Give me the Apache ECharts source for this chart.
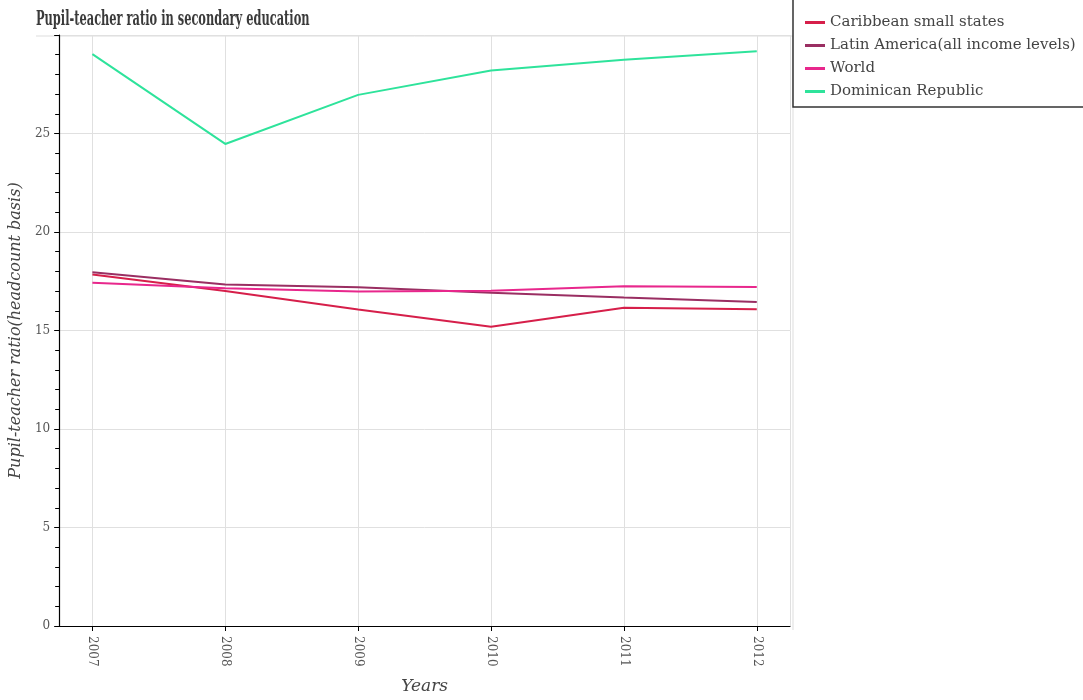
<!DOCTYPE html>
<html>
<head>
<meta charset="utf-8">
<script src="https://cdn.jsdelivr.net/npm/echarts@6/dist/echarts.min.js"></script>
<style>html,body{margin:0;padding:0;background:#fff}#c{width:1083px;height:700px}</style>
</head>
<body>
<div id="c"></div>
<script>
const years = [2007, 2008, 2009, 2010, 2011, 2012];
const caribbean = [17.84, 17.01, 16.07, 15.19, 16.16, 16.08];
const latinAmerica = [17.96, 17.33, 17.2, 16.92, 16.67, 16.45];
const world = [17.42, 17.15, 16.98, 17.02, 17.25, 17.21];
const dominican = [29.03, 24.47, 26.96, 28.2, 28.74, 29.18];

const seriesNames = ['Caribbean small states', 'Latin America(all income levels)', 'World', 'Dominican Republic'];
const seriesData = [caribbean, latinAmerica, world, dominican];
const colors = ['#d61f4a', '#9a2e62', '#e8278c', '#2ee39b'];

const chart = echarts.init(document.getElementById('c'));
const serif = 'DejaVu Serif';
chart.setOption({
  animation: false,
  backgroundColor: '#fff',
  graphic: [
    {type: 'text', z: 5, x: 36, y: 20, scaleX: 0.57,
      style: {text: 'Pupil-teacher ratio in secondary education', fontFamily: serif, fontWeight: 'bold', fontSize: 20, fill: '#3a3a3a', verticalAlign: 'middle', align: 'left'}},
    {type: 'line', z: 0, shape: {x1: 36, y1: 36, x2: 793, y2: 36}, style: {stroke: '#dddddd', lineWidth: 1}},
    {type: 'line', z: 0, shape: {x1: 793, y1: 36, x2: 793, y2: 630}, style: {stroke: '#dddddd', lineWidth: 1}},
    {type: 'rect', z: 1, shape: {x: 793, y: -2, width: 300, height: 109}, style: {fill: '#fff', stroke: '#333', lineWidth: 1.5}}
  ],
  legend: {
    orient: 'vertical', left: 800, top: 8, z: 10,
    icon: 'rect', itemWidth: 20, itemHeight: 3, itemGap: 4,
    textStyle: {fontFamily: serif, fontSize: 15, color: '#444', lineHeight: 19},
    data: seriesNames
  },
  grid: {left: 53, right: 293, top: 35, bottom: 70, containLabel: false},
  xAxis: {
    type: 'value', min: 2006.75, max: 2012.25, splitNumber: 6,
    name: 'Years', nameLocation: 'middle', nameGap: 52,
    nameTextStyle: {fontFamily: serif, fontStyle: 'italic', fontSize: 17, color: '#444'},
    axisLine: {show: true, lineStyle: {color: '#000', width: 1.2}},
    axisTick: {show: true, length: 5, lineStyle: {color: '#000'}},
    axisLabel: {rotate: -90, margin: 10, fontFamily: serif, fontSize: 12, color: '#555',
      showMinLabel: false, showMaxLabel: false, formatter: v => String(v)},
    splitLine: {show: true, lineStyle: {color: '#e0e0e0'}}
  },
  yAxis: {
    type: 'value', min: 0, max: 30, interval: 5,
    name: 'Pupil-teacher ratio(headcount basis)', nameLocation: 'middle', nameGap: 33,
    nameTextStyle: {fontFamily: serif, fontStyle: 'italic', fontSize: 16, color: '#444'},
    axisLine: {show: true, lineStyle: {color: '#000', width: 1.2}},
    axisTick: {show: true, length: 5, inside: false, lineStyle: {color: '#000'}},
    minorTick: {show: true, splitNumber: 5, length: 4, lineStyle: {color: '#000'}},
    axisLabel: {showMaxLabel: false, margin: 9, fontFamily: serif, fontSize: 12, color: '#555'},
    splitLine: {show: true, lineStyle: {color: '#e0e0e0'}}
  },
  series: seriesNames.map((n, i) => ({
    name: n, type: 'line', showSymbol: false, symbol: 'none',
    data: years.map((y, j) => [y, seriesData[i][j]]),
    lineStyle: {color: colors[i], width: 2},
    itemStyle: {color: colors[i]},
    z: 3
  }))
});
</script>
</body>
</html>
